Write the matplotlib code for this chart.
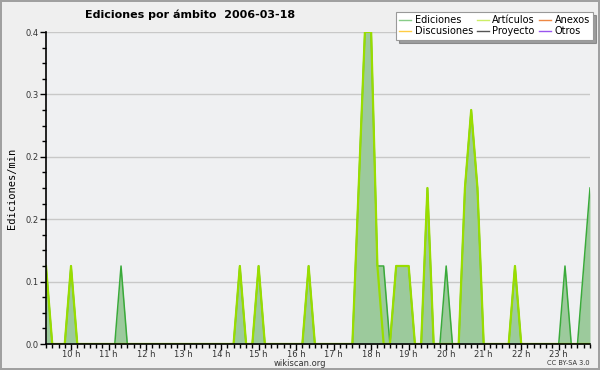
import matplotlib
matplotlib.use("Agg")
import matplotlib.pyplot as plt
import matplotlib.dates as mdates
import pandas as pd

# one point every 10 minutes, 09:20 -> 23:50 (edits per minute)
start = "2006-03-18 09:20"
n_points = 88

ediciones = [0.1, 0, 0, 0,                # 9 h
             0.1, 0, 0, 0, 0, 0,          # 10 h
             0, 0, 0.1, 0, 0, 0,          # 11 h
             0, 0, 0, 0, 0, 0,            # 12 h
             0, 0, 0, 0, 0, 0,            # 13 h
             0, 0, 0, 0.1, 0, 0,          # 14 h
             0.1, 0, 0, 0, 0, 0,          # 15 h
             0, 0, 0.1, 0, 0, 0,          # 16 h
             0, 0, 0, 0, 0.2, 0.4,        # 17 h
             0.4, 0.1, 0.1, 0, 0.1, 0.1,  # 18 h
             0.1, 0, 0, 0.2, 0, 0,        # 19 h
             0.1, 0, 0, 0.2, 0.3, 0.2,    # 20 h
             0, 0, 0, 0, 0, 0.1,          # 21 h
             0, 0, 0, 0, 0, 0,            # 22 h
             0, 0.1, 0, 0, 0.1, 0.2]      # 23 h

articulos = [0.1, 0, 0, 0,
             0.1, 0, 0, 0, 0, 0,
             0, 0, 0, 0, 0, 0,
             0, 0, 0, 0, 0, 0,
             0, 0, 0, 0, 0, 0,
             0, 0, 0, 0.1, 0, 0,
             0.1, 0, 0, 0, 0, 0,
             0, 0, 0.1, 0, 0, 0,
             0, 0, 0, 0, 0.2, 0.4,
             0.4, 0.1, 0, 0, 0.1, 0.1,
             0.1, 0, 0, 0.2, 0, 0,
             0, 0, 0, 0.2, 0.3, 0.2,
             0, 0, 0, 0, 0, 0.1,
             0, 0, 0, 0, 0, 0,
             0, 0, 0, 0, 0, 0]

zeros = [0] * n_points
anexos = zeros
discusiones = zeros
proyecto = zeros
otros = zeros

y_ticks = [0, 0.08, 0.16, 0.24, 0.32, 0.4]

times = pd.date_range(start, periods=n_points, freq="10min")

fig = plt.figure(figsize=(6, 3.7), dpi=100, facecolor="#efefef",
                 edgecolor="#a0a0a0", linewidth=1.5)
ax = fig.add_axes([46 / 600, 1 - 344 / 370, 544 / 600, 312 / 370])
ax.set_facecolor("#eff0f2")

for vals, col in [(discusiones, "#ffcc44"), (anexos, "#ee8844"),
                  (proyecto, "#555555"), (otros, "#9955ee")]:
    ax.plot(times, vals, color=col, lw=1, zorder=1)

ax.fill_between(times, 0, ediciones, color="#9cca9c", lw=0, zorder=2)
ax.plot(times, ediciones, color="#3aaa3a", lw=1.1, zorder=3)
ax.plot(times, articulos, color="#99dd00", lw=1.6, zorder=4)

ax.set_xlim(times[0], times[-1])
ax.set_ylim(0, 0.4)
ax.set_yticks(y_ticks)
ax.yaxis.set_major_formatter(plt.FormatStrFormatter("%.1f"))
ax.yaxis.set_minor_locator(plt.MultipleLocator(0.02))
ax.grid(axis="y", color="#c8c8c8", lw=1)
ax.set_axisbelow(True)

ax.xaxis.set_major_locator(mdates.HourLocator(byhour=range(10, 24)))
ax.xaxis.set_major_formatter(mdates.DateFormatter("%H h"))
ax.xaxis.set_minor_locator(mdates.MinuteLocator(byminute=range(0, 60, 10)))

for s in ["top", "right"]:
    ax.spines[s].set_visible(False)
for s in ["left", "bottom"]:
    ax.spines[s].set_color("black")
    ax.spines[s].set_linewidth(1.2)
    ax.spines[s].set_zorder(6)

ax.tick_params(which="major", direction="out", length=4, width=1,
               labelsize=6, labelcolor="#333333", pad=1)
ax.tick_params(which="minor", direction="out", length=3, width=1)
ax.tick_params(axis="x", which="major", pad=0)

fig.text(85 / 600, 1 - 15 / 370, "Ediciones por ámbito  2006-03-18",
         fontsize=8, fontweight="bold", va="center", ha="left")
fig.text(12 / 600, 1 - 188 / 370, "Ediciones/min", rotation=90,
         family="DejaVu Sans Mono", fontsize=7.5, va="center", ha="center")
fig.text(300 / 600, 1 - 363 / 370, "wikiscan.org", fontsize=6,
         color="#333333", va="center", ha="center")
fig.text(590 / 600, 1 - 363 / 370, "CC BY-SA 3.0", fontsize=4.8,
         color="#333333", va="center", ha="right")

handles = [plt.Line2D([], [], color=c, lw=1) for c in
           ["#88cc88", "#ffcc44", "#ccee66", "#555555", "#ee8844", "#9955ee"]]
labels = ["Ediciones", "Discusiones", "Artículos", "Proyecto", "Anexos", "Otros"]
leg = fig.legend(handles, labels, ncol=3, loc="upper right",
                 bbox_to_anchor=(598 / 600, 1 - 7 / 370),
                 fontsize=7, frameon=True, fancybox=False, shadow=True,
                 handlelength=1.2, handletextpad=0.4, columnspacing=0.4,
                 labelspacing=0.12, borderpad=0.35)
leg.get_frame().set_edgecolor("#999999")
leg.get_frame().set_linewidth(0.8)

fig.savefig("out.png", dpi=100, facecolor=fig.get_facecolor(),
            edgecolor=fig.get_edgecolor())
